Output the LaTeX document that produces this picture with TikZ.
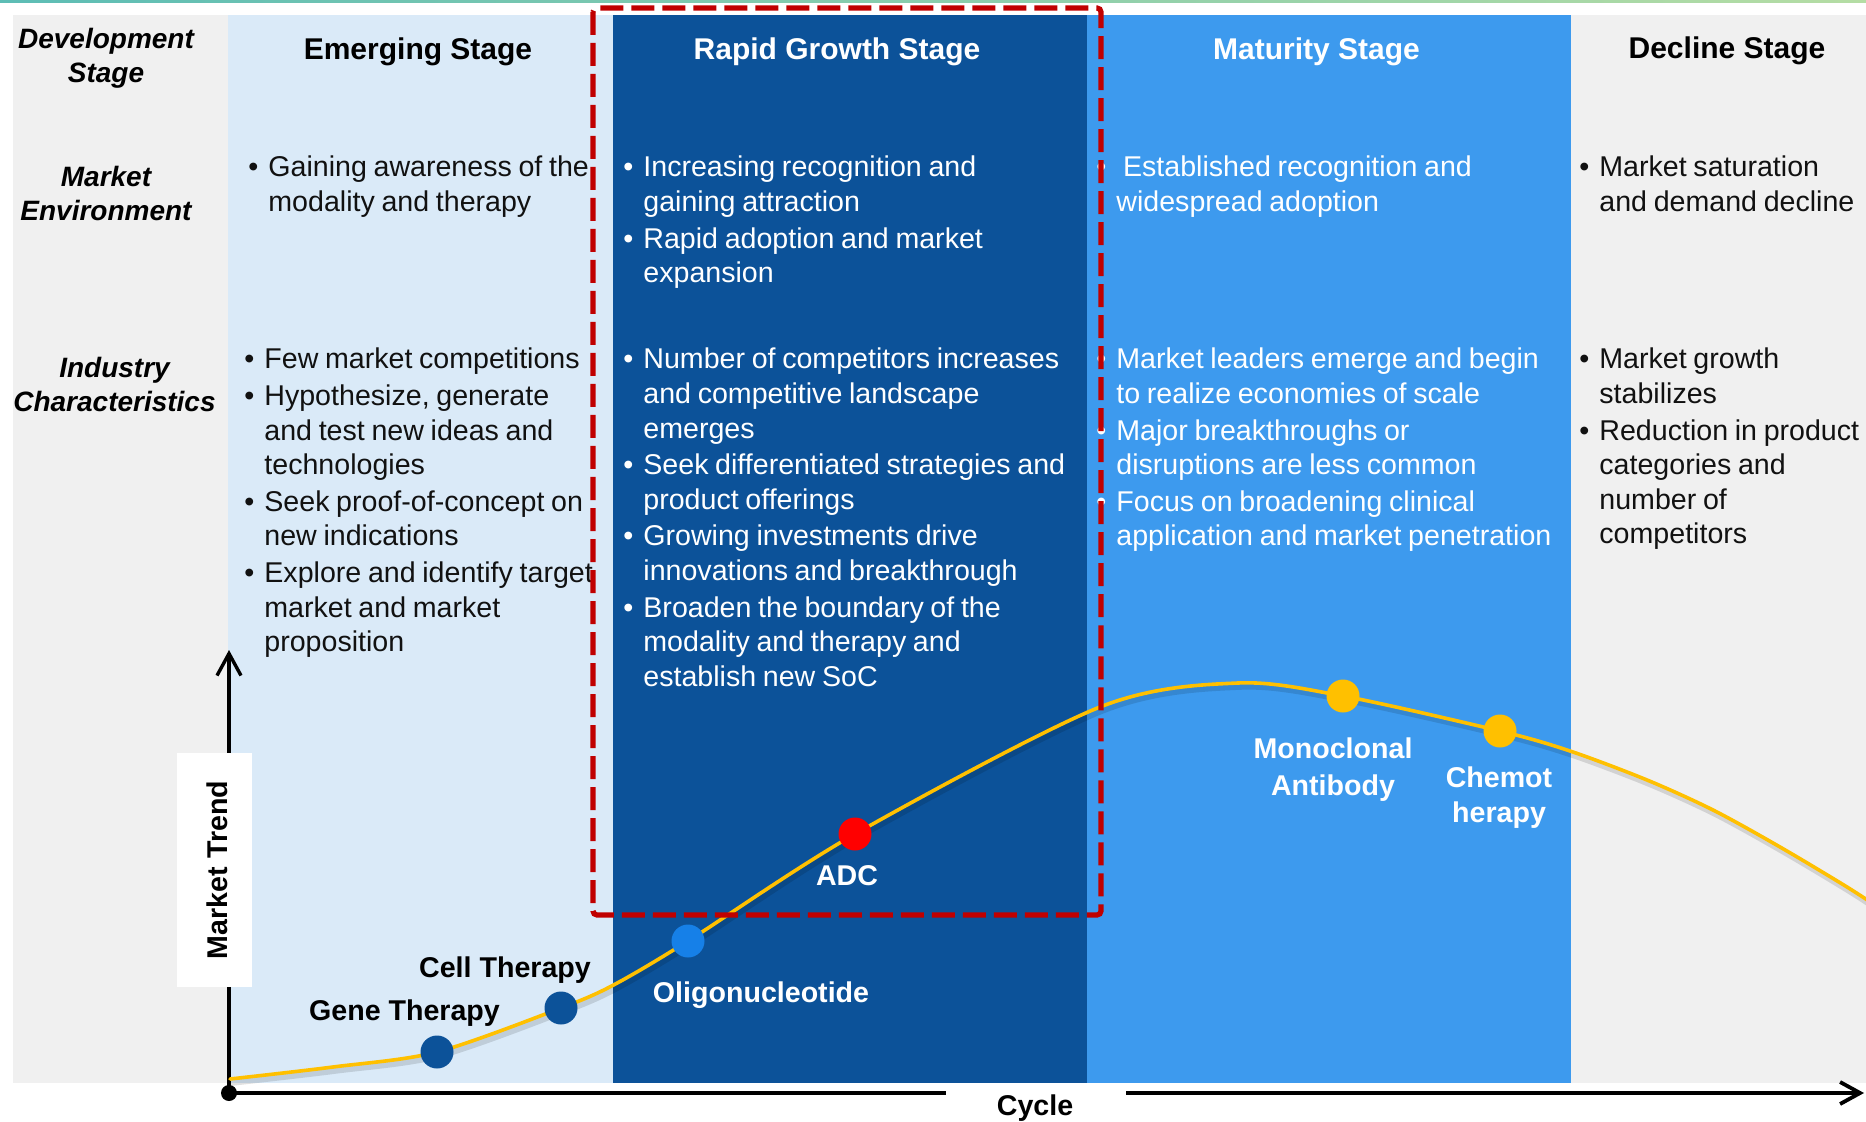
\documentclass[tikz,border=0pt]{standalone}
\usepackage{fontspec}
\setmainfont{Liberation Sans}
\usetikzlibrary{arrows.meta}
\definecolor{greybg}{HTML}{F0F0F0}
\definecolor{lightcol}{HTML}{DAEAF8}
\definecolor{darkcol}{HTML}{0C5299}
\definecolor{midcol}{HTML}{3D9AEE}
\definecolor{reddash}{HTML}{C00000}
\definecolor{gold}{HTML}{FFC000}
\definecolor{oligoblue}{HTML}{1680E8}
\definecolor{darktext}{HTML}{111111}
\definecolor{topteal}{HTML}{5DBDB5}
\definecolor{topgreen}{HTML}{B5DDA4}
\newcommand{\bodyfont}{\fontsize{14.3}{17.3}\selectfont\setlength{\parskip}{1pt}}
\newcommand{\labfont}{\bfseries\itshape\fontsize{14}{16.8}\selectfont}
\newcommand{\bitem}[1]{\hangindent=10pt\hangafter=1\relax\makebox[10pt][l]{\textbullet}#1\par}
\tikzset{
  stagehead/.style={anchor=base, inner sep=0, font=\bfseries\fontsize{15}{18}\selectfont},
  rowlabel/.style={anchor=base, inner sep=0, text width=120pt, align=center, text=black},
  bodytext/.style={anchor=base west, inner sep=0, align=left},
  dot/.style={circle, inner sep=0, minimum size=16.5pt, draw=none},
  curvelabel/.style={anchor=base, inner sep=0, font=\bfseries\fontsize{14.3}{17.3}\selectfont},
  axisline/.style={line width=1.9pt, black},
  trendcurve/.style={line width=1.8pt, gold, line cap=round},
  trendshadow/.style={line width=3.2pt, black, opacity=0.12, line cap=round},
  focusbox/.style={draw=reddash, line width=2.6pt, dash pattern=on 11.5pt off 4pt, rounded corners=2pt},
}
\begin{document}
\begin{tikzpicture}[x=0.5pt, y=-0.5pt]
\useasboundingbox (0,0) rectangle (1866,1122);
% top strip
\shade[left color=topteal, right color=topgreen] (0,0) rectangle (1866,2.5);
% panels
\fill[greybg] (13,15) rectangle (1866,1083);
\fill[lightcol] (228,15) rectangle (613,1083);
\fill[darkcol] (613,15) rectangle (1087,1083);
\fill[midcol] (1087,15) rectangle (1571,1083);

% row labels
\node[rowlabel] (devlab) at (106,49) {\labfont Development\\Stage\par};
\node[rowlabel] (envlab) at (106,187) {\labfont Market\\Environment\par};
\node[rowlabel] (indlab) at (114.5,378) {\labfont Industry\\Characteristics\par};

% stage headings
\node[stagehead, text=black] (hEm) at (418,60) {Emerging Stage};
\node[stagehead, text=white] (hRa) at (837,60) {Rapid Growth Stage};
\node[stagehead, text=white] (hMa) at (1316.5,60) {Maturity Stage};
\node[stagehead, text=black] (hDe) at (1727,59) {Decline Stage};

% Emerging
\node[bodytext, text width=200pt, text=darktext] (emEnv) at (248,177)
  {\bodyfont\bitem{Gaining awareness of the\newline modality and therapy}};
\node[bodytext, text width=200pt, text=darktext] (emInd) at (244,369)
  {\bodyfont
   \bitem{Few market competitions}
   \bitem{Hypothesize, generate\newline and test new ideas and\newline technologies}
   \bitem{Seek proof-of-concept on\newline new indications}
   \bitem{Explore and identify target\newline market and market\newline proposition}};

% Rapid growth
\node[bodytext, text width=240pt, text=white] (raEnv) at (623,177)
  {\bodyfont
   \bitem{Increasing recognition and\newline gaining attraction}
   \bitem{Rapid adoption and market\newline expansion}};
\node[bodytext, text width=240pt, text=white] (raInd) at (623,369)
  {\bodyfont
   \bitem{Number of competitors increases\newline and competitive landscape\newline emerges}
   \bitem{Seek differentiated strategies and\newline product offerings}
   \bitem{Growing investments drive\newline innovations and breakthrough}
   \bitem{Broaden the boundary of the\newline modality and therapy and\newline establish new SoC}};

% Maturity
\node[bodytext, text width=240pt, text=white] (maEnv) at (1096,177)
  {\bodyfont\bitem{\ Established recognition and\newline widespread adoption}};
\node[bodytext, text width=240pt, text=white] (maInd) at (1096,369)
  {\bodyfont
   \bitem{Market leaders emerge and begin\newline to realize economies of scale}
   \bitem{Major breakthroughs or\newline disruptions are less common}
   \bitem{Focus on broadening clinical\newline application and market penetration}};

% Decline
\node[bodytext, text width=150pt, text=darktext] (deEnv) at (1579,177)
  {\bodyfont\bitem{Market saturation\newline and demand decline}};
\node[bodytext, text width=150pt, text=darktext] (deInd) at (1579,369)
  {\bodyfont
   \bitem{Market growth\newline stabilizes}
   \bitem{Reduction in product\newline categories and\newline number of\newline competitors}};

% axes
\node[circle, fill=black, minimum size=8pt, inner sep=0] (origin) at (229,1093) {};
\coordinate (ytip) at (229,650);
\coordinate (gapL) at (946,1093);
\coordinate (gapR) at (1126,1093);
\coordinate (xtip) at (1864,1093);
\draw[axisline, line width=1.7pt, -{Straight Barb[length=11pt,width=12pt]}] (origin.center) -- (ytip);
\draw[axisline] (origin.center) -- (gapL);
\draw[axisline, -{Straight Barb[length=10pt,width=11pt]}] (gapR) -- (xtip);
\node[curvelabel, text=black] (cycle) at (1035,1115) {Cycle};
\node[fill=white, minimum width=37.5pt, minimum height=117pt, inner sep=0] (trendbox) at (214.5,870) {};
\node[rotate=90, anchor=base, inner sep=0, font=\bfseries\fontsize{14.3}{17.3}\selectfont] (trendlab) at (227,870) {Market Trend};

% curve
\coordinate (k0) at (230,1079);
\coordinate (ka) at (333,1067);
\coordinate (pGene) at (437,1052);
\coordinate (pCell) at (561,1008);
\coordinate (k1) at (613.5,985);
\coordinate (pOligo) at (688,941);
\coordinate (pADC) at (855,834);
\coordinate (k2) at (1100,707);
\coordinate (k3) at (1238,683);
\coordinate (pMono) at (1343,696);
\coordinate (pChemo) at (1500,731);
\coordinate (k4) at (1570,751);
\coordinate (k5) at (1647,780);
\coordinate (k6) at (1713,810);
\coordinate (k7) at (1780,847);
\coordinate (k8) at (1847,887);
\coordinate (k9) at (1890,915);
\draw[trendshadow, transform canvas={shift={(1pt,-1.8pt)}}] plot[smooth, tension=0.5] coordinates {(k0) (ka) (pGene) (pCell) (k1) (pOligo) (pADC) (k2) (k3) (pMono) (pChemo) (k4) (k5) (k6) (k7) (k8) (k9)};
\draw[trendcurve] plot[smooth, tension=0.5] coordinates {(k0) (ka) (pGene) (pCell) (k1) (pOligo) (pADC) (k2) (k3) (pMono) (pChemo) (k4) (k5) (k6) (k7) (k8) (k9)};

% dots
\node[dot, fill=darkcol] (geneDot) at (pGene) {};
\node[dot, fill=darkcol] (cellDot) at (pCell) {};
\node[dot, fill=oligoblue] (oligoDot) at (pOligo) {};
\node[dot, fill=red] (adcDot) at (pADC) {};
\node[dot, fill=gold] (monoDot) at (pMono) {};
\node[dot, fill=gold] (chemoDot) at (pChemo) {};

% curve labels
\node[curvelabel, text=black] (cellLab) at (505,977) {Cell Therapy};
\node[curvelabel, text=black] (geneLab) at (404.5,1020) {Gene Therapy};
\node[curvelabel, text=white] (oligoLab) at (761,1002) {Oligonucleotide};
\node[curvelabel, text=white] (adcLab) at (847,885) {ADC};
\node[curvelabel, text=white, text width=100pt, align=center] (monoLab) at (1333,758) {\fontsize{14.3}{18.5}\selectfont Monoclonal\\Antibody\par};
\node[curvelabel, text=white, text width=80pt, align=center] (chemoLab) at (1499,787) {\fontsize{14.3}{17.5}\selectfont Chemot\\herapy\par};

% focus box
\draw[focusbox] (593,8) rectangle (1101,915);
\end{tikzpicture}
\end{document}
